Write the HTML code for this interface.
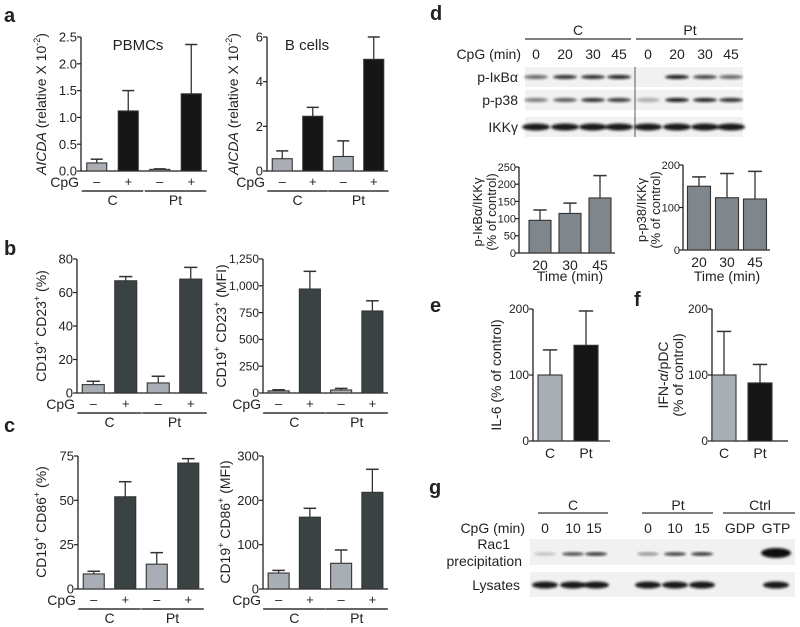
<!DOCTYPE html>
<html><head><meta charset="utf-8"><style>
body{margin:0;background:#fff}
svg{display:block;font-family:"Liberation Sans",sans-serif}
</style></head><body>
<svg id="fig" width="800" height="627" viewBox="0 0 800 627" xmlns="http://www.w3.org/2000/svg">
<defs><filter id="blur" x="-20%" y="-50%" width="140%" height="200%"><feGaussianBlur stdDeviation="1.2"/></filter></defs>
<g id="root"></g>
<g font-family="Liberation Sans, sans-serif" fill="#222">
<text x="4" y="22" font-size="20" font-weight="bold">a</text>
<text x="4" y="255" font-size="20" font-weight="bold">b</text>
<text x="4" y="432" font-size="20" font-weight="bold">c</text>
<text x="430" y="20" font-size="20" font-weight="bold">d</text>
<text x="430" y="312" font-size="20" font-weight="bold">e</text>
<text x="634" y="306" font-size="20" font-weight="bold">f</text>
<text x="429" y="494" font-size="20" font-weight="bold">g</text>
<text x="138" y="50" font-size="15" text-anchor="middle">PBMCs</text>
<text x="307" y="50" font-size="15" text-anchor="middle">B cells</text>
<text transform="translate(46,104) rotate(-90)" font-size="14" text-anchor="middle"><tspan font-style="italic">AICDA</tspan> (relative X 10<tspan font-size="9" dy="-6">-2</tspan><tspan dy="6">)</tspan></text>
<text transform="translate(238,104) rotate(-90)" font-size="14" text-anchor="middle"><tspan font-style="italic">AICDA</tspan> (relative X 10<tspan font-size="9" dy="-6">-2</tspan><tspan dy="6">)</tspan></text>
<text transform="translate(46,326) rotate(-90)" font-size="14" text-anchor="middle">CD19<tspan font-size="9" dy="-6">+</tspan><tspan dy="6"> CD23</tspan><tspan font-size="9" dy="-6">+</tspan><tspan dy="6"> (%)</tspan></text>
<text transform="translate(226,326) rotate(-90)" font-size="14" text-anchor="middle">CD19<tspan font-size="9" dy="-6">+</tspan><tspan dy="6"> CD23</tspan><tspan font-size="9" dy="-6">+</tspan><tspan dy="6"> (MFI)</tspan></text>
<text transform="translate(46,522) rotate(-90)" font-size="14" text-anchor="middle">CD19<tspan font-size="9" dy="-6">+</tspan><tspan dy="6"> CD86</tspan><tspan font-size="9" dy="-6">+</tspan><tspan dy="6"> (%)</tspan></text>
<text transform="translate(230,522) rotate(-90)" font-size="14" text-anchor="middle">CD19<tspan font-size="9" dy="-6">+</tspan><tspan dy="6"> CD86</tspan><tspan font-size="9" dy="-6">+</tspan><tspan dy="6"> (MFI)</tspan></text>
<text transform="translate(482,212) rotate(-90)" font-size="13" text-anchor="middle">p-IκBα/IKKγ</text>
<text transform="translate(496,212) rotate(-90)" font-size="13" text-anchor="middle">(% of control)</text>
<text transform="translate(646,210) rotate(-90)" font-size="13" text-anchor="middle">p-p38/IKKγ</text>
<text transform="translate(660,210) rotate(-90)" font-size="13" text-anchor="middle">(% of control)</text>
<text transform="translate(501,375) rotate(-90)" font-size="14" text-anchor="middle">IL-6 (% of control)</text>
<text transform="translate(668,375) rotate(-90)" font-size="14" text-anchor="middle">IFN-<tspan font-style="italic">α</tspan>/pDC</text>
<text transform="translate(683,375) rotate(-90)" font-size="14" text-anchor="middle">(% of control)</text>
<line x1="525" x2="631" y1="39" y2="39" stroke="#333" stroke-width="1.3"/>
<line x1="636" x2="743" y1="39" y2="39" stroke="#333" stroke-width="1.3"/>
<text x="578" y="35" font-size="14" text-anchor="middle">C</text>
<text x="690" y="35" font-size="14" text-anchor="middle">Pt</text>
<g font-size="14" text-anchor="middle">
<text x="521" y="59" text-anchor="end">CpG (min)</text>
<text x="536" y="59">0</text><text x="565" y="59">20</text><text x="593" y="59">30</text><text x="619" y="59">45</text>
<text x="648" y="59">0</text><text x="677" y="59">20</text><text x="705" y="59">30</text><text x="731" y="59">45</text>
</g>
<g font-size="14" text-anchor="end">
<text x="518" y="82">p-IκBα</text><text x="518" y="105">p-p38</text><text x="518" y="132">IKKγ</text>
</g>
<line x1="538" x2="608" y1="513" y2="513" stroke="#333" stroke-width="1.3"/>
<line x1="642" x2="713" y1="513" y2="513" stroke="#333" stroke-width="1.3"/>
<line x1="723" x2="795" y1="513" y2="513" stroke="#333" stroke-width="1.3"/>
<g font-size="14" text-anchor="middle">
<text x="573" y="510">C</text><text x="678" y="510">Pt</text><text x="760" y="510">Ctrl</text>
</g>
<g font-size="14" text-anchor="middle">
<text x="525" y="533" text-anchor="end">CpG (min)</text>
<text x="545" y="533">0</text><text x="573" y="533">10</text><text x="594" y="533">15</text>
<text x="648" y="533">0</text><text x="675" y="533">10</text><text x="702" y="533">15</text>
<text x="740" y="533">GDP</text><text x="776" y="533">GTP</text>
</g>
<g font-size="14" text-anchor="end">
<text x="510" y="549">Rac1</text><text x="522" y="566">precipitation</text><text x="520" y="590">Lysates</text>
</g>
</g>
</svg>
<script>
// ---- data ----
const aPbmcVals=[0.15,1.12,0.03,1.44];
const aPbmcErr=[0.07,0.38,0.01,0.92];
const aPbmcTicks=[0,0.5,1,1.5,2,2.5];
const aPbmcTickLabels=["0.0","0.5","1.0","1.5","2.0","2.5"];
const aBVals=[0.55,2.45,0.65,5.0];
const aBErr=[0.35,0.4,0.7,1.0];
const aBTicks=[0,2,4,6];
const aBTickLabels=["0","2","4","6"];
const bPctVals=[5,67,6,68];
const bPctErr=[2,2.5,4,7];
const bPctTicks=[0,20,40,60,80];
const bPctTickLabels=["0","20","40","60","80"];
const bMfiVals=[20,970,28,765];
const bMfiErr=[10,165,15,95];
const bMfiTicks=[0,250,500,750,1000,1250];
const bMfiTickLabels=["0","250","500","750","1,000","1,250"];
const cPctVals=[8.5,52,14,71];
const cPctErr=[1.5,8.5,6.5,2.5];
const cPctTicks=[0,25,50,75];
const cPctTickLabels=["0","25","50","75"];
const cMfiVals=[36,162,58,218];
const cMfiErr=[6,20,30,52];
const cMfiTicks=[0,100,200,300];
const cMfiTickLabels=["0","100","200","300"];
const dIkbVals=[95,115,160];
const dIkbErr=[30,30,65];
const dIkbTicks=[0,50,100,150,200,250];
const dP38Vals=[150,123,120];
const dP38Err=[22,57,65];
const dP38Ticks=[0,100,200];
const timeCats=["20","30","45"];
const eVals=[100,145];
const eErr=[38,52];
const fVals=[100,88];
const fErr=[66,28];
const efTicks=[0,100,200];
const groupCats=["C","Pt"];
const cpgSigns=["–","+","–","+"];

const NS="http://www.w3.org/2000/svg";
const root=document.getElementById('root');
function el(tag,attrs,parent,text){const e=document.createElementNS(NS,tag);for(const k in attrs)e.setAttribute(k,attrs[k]);if(text!==undefined)e.textContent=text;(parent||root).appendChild(e);return e;}

function barChart(name,c){
  const g=el('g',{});
  
  
  const y=v=>c.yBot-(v/c.max)*(c.yBot-c.yTop);
  const xc=i=>c.x0+c.padL+c.step*(i+0.5);
  const ax=el('path',{d:`M${c.x0} ${c.yTop} V${c.yBot} H${c.x1}`,stroke:'#222','stroke-width':1.3,fill:'none'},g);
  
  
  c.ticks.forEach((t,i)=>{
    el('line',{x1:c.x0-4,x2:c.x0,y1:y(t),y2:y(t),stroke:'#222','stroke-width':1.2},g);
    const fs=c.fs||13;
    const tl=el('text',{x:c.x0-(c.tickGap||4),y:y(t)+fs*0.35,'text-anchor':'end','font-size':fs,fill:'#222'},g,c.tickLabels?c.tickLabels[i]:String(t));
    
    
  });
  c.vals.forEach((v,i)=>{
    const cx=xc(i),top=y(v),et=y(v+c.errs[i]);
    const fill=c.colors[i%c.colors.length];
    el('line',{x1:cx,x2:cx,y1:top,y2:et,stroke:'#333','stroke-width':1.3},g);
    el('line',{x1:cx-c.bw*0.3,x2:cx+c.bw*0.3,y1:et,y2:et,stroke:'#333','stroke-width':1.5},g);
    const r=el('rect',{x:cx-c.bw/2,y:top,width:c.bw,height:c.yBot-top,fill:fill,stroke:c.stroke||'#333','stroke-width':1.1},g);
    
    
  });
  if(c.cpg){
    const cl=el('text',{x:c.x0-2,y:c.yBot+16,'text-anchor':'end','font-size':14,fill:'#222'},g,'CpG');
    
    
    cpgSigns.forEach((s,i)=>{el('text',{x:xc(i),y:c.yBot+15,'text-anchor':'middle','font-size':13,fill:'#222'},g,s);});
    groupCats.forEach((gc,k)=>{
      const a=xc(2*k)-c.bw/2-5,b=xc(2*k+1)+c.bw/2+5;
      el('line',{x1:a,x2:b,y1:c.yBot+20,y2:c.yBot+20,stroke:'#333','stroke-width':1.4},g);
      const t=el('text',{x:(a+b)/2,y:c.yBot+34,'text-anchor':'middle','font-size':14,fill:'#222'},g,gc);
      
      
    });
  }
  if(c.cats){
    c.cats.forEach((ct,i)=>{el('text',{x:xc(i),y:c.yBot+17,'text-anchor':'middle','font-size':14,fill:'#222'},g,ct);});
  }
  return g;
}
const LG='#a9aeb5',BK='#161616',DK='#3b4244',MG='#80878c';
barChart('chart-a-pbmcs',{vals:aPbmcVals,errs:aPbmcErr,ticks:aPbmcTicks,tickLabels:aPbmcTickLabels,max:2.5,x0:81,x1:207,yTop:37,yBot:171,padL:0,step:31.5,bw:20,colors:[LG,BK],cpg:1});
barChart('chart-a-bcells',{vals:aBVals,errs:aBErr,ticks:aBTicks,tickLabels:aBTickLabels,max:6,x0:267,x1:388,yTop:37,yBot:171,padL:0,step:30.5,bw:20,colors:[LG,BK],cpg:1});
barChart('chart-b-pct',{vals:bPctVals,errs:bPctErr,ticks:bPctTicks,tickLabels:bPctTickLabels,max:80,x0:77,x1:207,yTop:259,yBot:393,padL:0,step:32.5,bw:22,colors:[LG,DK],cpg:1});
barChart('chart-b-mfi',{vals:bMfiVals,errs:bMfiErr,ticks:bMfiTicks,tickLabels:bMfiTickLabels,max:1250,x0:263,x1:388,yTop:259,yBot:393,padL:0,step:31.25,bw:21,colors:[LG,DK],cpg:1,fs:12});
barChart('chart-c-pct',{vals:cPctVals,errs:cPctErr,ticks:cPctTicks,tickLabels:cPctTickLabels,max:75,x0:78,x1:204,yTop:456,yBot:589,padL:0,step:31.5,bw:21,colors:[LG,DK],cpg:1});
barChart('chart-c-mfi',{vals:cMfiVals,errs:cMfiErr,ticks:cMfiTicks,tickLabels:cMfiTickLabels,max:300,x0:263,x1:388,yTop:456,yBot:589,padL:0,step:31.25,bw:21,colors:[LG,DK],cpg:1});
barChart('chart-d-ikba',{vals:dIkbVals,errs:dIkbErr,ticks:dIkbTicks,max:250,x0:519,x1:615,yTop:167,yBot:253,padL:6,step:30,bw:22,colors:[MG],cats:timeCats,fs:11,tickGap:3});
barChart('chart-d-p38',{vals:dP38Vals,errs:dP38Err,ticks:dP38Ticks,max:200,x0:683,x1:770,yTop:165,yBot:250,padL:2,step:28,bw:23,colors:[MG],cats:timeCats,fs:11,tickGap:3});
barChart('chart-e',{vals:eVals,errs:eErr,ticks:efTicks,max:200,x0:533,x1:610,yTop:309,yBot:441,padL:-1,step:36,bw:24,colors:[LG,BK],cats:groupCats,fs:12});
barChart('chart-f',{vals:fVals,errs:fErr,ticks:efTicks,max:200,x0:712,x1:788,yTop:309,yBot:441,padL:-6,step:36,bw:24,colors:[LG,BK],cats:groupCats,fs:12});

[[570,'chart-d-ikba'],[727,'chart-d-p38']].forEach(([x,n])=>{
  const t=el('text',{x:x,y:281,'text-anchor':'middle','font-size':14,fill:'#222'},root,'Time (min)');
  
  
});

function band(x,y,w,h,o,parent){el('ellipse',{cx:x,cy:y,rx:w/2,ry:h/2,fill:'#111',opacity:o,filter:'url(#blur)'},parent);}
const blotD=el('g',{});


[[67,87],[90,110],[117,137]].forEach(([a,b])=>el('rect',{x:525,y:a,width:218,height:b-a,fill:'#f1f1f1'},blotD));
el('line',{x1:635,x2:635,y1:67,y2:137,stroke:'#333','stroke-width':0.8},blotD);
const lanesD=[536,565,593,619,648,677,705,731];
const ikb=[0.6,0.85,0.85,0.9,0,0.95,0.75,0.6], p38=[0.5,0.65,0.85,0.8,0.3,0.95,0.9,0.85];
lanesD.forEach((x,i)=>{band(x,77,24,4,ikb[i],blotD);band(x,100,24,4,p38[i],blotD);band(x,127,28,7,0.95,blotD);});
const blotG=el('g',{});


el('rect',{x:530,y:539,width:265,height:26,fill:'#f1f1f1'},blotG);
el('rect',{x:530,y:572,width:265,height:25,fill:'#f1f1f1'},blotG);
const lanesG=[545,573,596,648,675,702,740,776];
const rac=[0.2,0.75,0.85,0.4,0.8,0.85,0,1], lys=[0.95,0.95,0.95,0.95,0.95,0.95,0.95,0.95];
lanesG.forEach((x,i)=>{ if(i===7) band(x,553,30,10,1,blotG); else band(x,554,22,3.5,rac[i],blotG); if(i!==6) band(x,585,26,7,lys[i],blotG);});
</script>
</body></html>
